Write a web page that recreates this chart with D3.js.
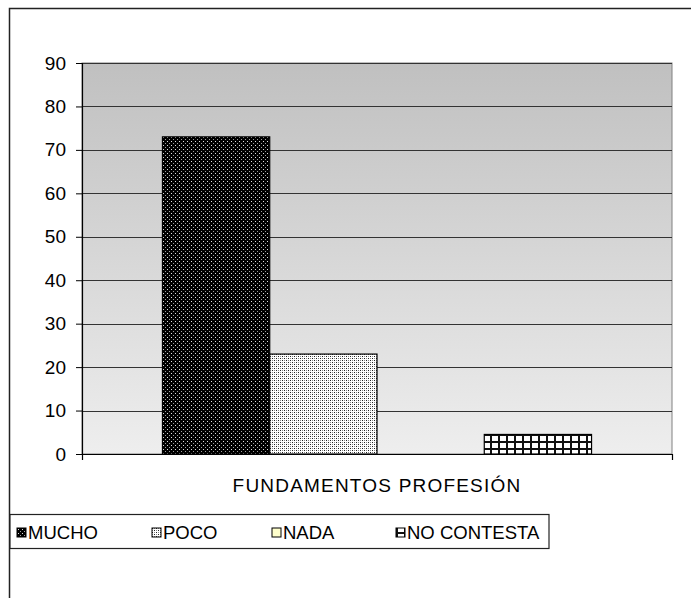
<!DOCTYPE html>
<html>
<head>
<meta charset="utf-8">
<script src="https://cdn.jsdelivr.net/npm/d3@7"></script>
<style>
  html, body { margin: 0; padding: 0; background: #fff; }
  svg { display: block; }
  text { font-family: "Liberation Sans", Arial, sans-serif; fill: #000; }
</style>
</head>
<body>
<svg id="chart" width="691" height="598"></svg>
<script>
// Chart data
const categories = ["FUNDAMENTOS PROFESIÓN"];
const seriesNames = ["MUCHO", "POCO", "NADA", "NO CONTESTA"];
const seriesValues = [73, 23, 0, 4.5];
const yTicks = [0, 10, 20, 30, 40, 50, 60, 70, 80, 90];
const seriesFills = ["url(#pat-mucho)", "url(#pat-poco)", "#ffffcc", "url(#pat-nc)"];

const svg = d3.select("#chart");
const defs = svg.append("defs");

// Plot-area background: grey fading to light grey
const grad = defs.append("linearGradient")
  .attr("id", "bg-grad").attr("x1", 0).attr("y1", 0).attr("x2", 0).attr("y2", 1);
grad.append("stop").attr("offset", "0%").attr("stop-color", "#c0c0c0");
grad.append("stop").attr("offset", "100%").attr("stop-color", "#eeeeee");

// MUCHO: black with light dots
const pm = defs.append("pattern").attr("id", "pat-mucho")
  .attr("patternUnits", "userSpaceOnUse").attr("width", 4).attr("height", 4);
pm.append("rect").attr("width", 4).attr("height", 4).attr("fill", "#000");
pm.append("rect").attr("x", 1).attr("y", 1).attr("width", 1).attr("height", 1).attr("fill", "#e0e0e0");
pm.append("rect").attr("x", 3).attr("y", 3).attr("width", 1).attr("height", 1).attr("fill", "#a0a0a0");

// POCO: white with dark dots
const pp = defs.append("pattern").attr("id", "pat-poco")
  .attr("patternUnits", "userSpaceOnUse").attr("width", 4).attr("height", 4);
pp.append("rect").attr("width", 4).attr("height", 4).attr("fill", "#fff");
pp.append("rect").attr("x", 0).attr("y", 0).attr("width", 1).attr("height", 1).attr("fill", "#222");
pp.append("rect").attr("x", 2).attr("y", 2).attr("width", 1).attr("height", 1).attr("fill", "#222");
pp.append("rect").attr("x", 0).attr("y", 2).attr("width", 1).attr("height", 1).attr("fill", "#888");
pp.append("rect").attr("x", 2).attr("y", 0).attr("width", 1).attr("height", 1).attr("fill", "#888");

// NO CONTESTA: white with black grid
const pn = defs.append("pattern").attr("id", "pat-nc")
  .attr("patternUnits", "userSpaceOnUse").attr("width", 8).attr("height", 7);
pn.append("rect").attr("width", 8).attr("height", 7).attr("fill", "#fff");
pn.append("rect").attr("x", 0).attr("y", 0).attr("width", 2).attr("height", 7).attr("fill", "#111");
pn.append("rect").attr("x", 0).attr("y", 0).attr("width", 8).attr("height", 2).attr("fill", "#111");

// Outer chart frame
svg.append("rect")
  .attr("x", 9.5).attr("y", 8.5).attr("width", 700).attr("height", 620)
  .attr("fill", "none").attr("stroke", "#222").attr("stroke-width", 1.5);

// Plot area bounds
const plotLeft = 82, plotRight = 672, plotTop = 63, plotBottom = 454;

const y = d3.scaleLinear().domain([0, 90]).range([plotBottom, plotTop]);
const x0 = d3.scaleBand().domain(categories).range([plotLeft, plotRight]).padding(0);
const x1 = d3.scaleBand().domain(seriesNames)
  .range([0, x0.bandwidth()]).paddingInner(0).paddingOuter(0.75);

svg.append("rect")
  .attr("x", plotLeft).attr("y", plotTop)
  .attr("width", plotRight - plotLeft).attr("height", plotBottom - plotTop)
  .attr("fill", "url(#bg-grad)").attr("stroke", "#808080").attr("stroke-width", 1);

// Horizontal gridlines
svg.append("g").selectAll("line")
  .data(yTicks.filter(d => d > 0))
  .join("line")
  .attr("x1", plotLeft).attr("x2", plotRight)
  .attr("y1", d => Math.round(y(d)) + 0.5).attr("y2", d => Math.round(y(d)) + 0.5)
  .attr("stroke", "#333").attr("stroke-width", 1);

// Bars
const groups = svg.append("g").selectAll("g")
  .data(categories)
  .join("g")
  .attr("transform", d => `translate(${x0(d)},0)`);

groups.selectAll("rect")
  .data(() => seriesNames.map((s, i) => ({ s, v: seriesValues[i], f: seriesFills[i] })).filter(d => d.v > 0))
  .join("rect")
  .attr("x", d => x1(d.s))
  .attr("y", d => y(d.v))
  .attr("width", x1.bandwidth())
  .attr("height", d => y(0) - y(d.v))
  .attr("fill", d => d.f)
  .attr("stroke", "#000").attr("stroke-width", 1.2);

// Y axis
const yAxis = d3.axisLeft(y).tickValues(yTicks).tickSize(6).tickPadding(10);
const gy = svg.append("g").attr("transform", `translate(${plotLeft},0)`).call(yAxis);
gy.select(".domain").attr("stroke", "#000").attr("stroke-width", 1.2);
gy.selectAll(".tick line").attr("stroke", "#000");
gy.selectAll(".tick text")
  .style("font-family", "'Liberation Sans', Arial, sans-serif")
  .style("font-size", "19px").attr("fill", "#000");

// X axis: boundary ticks only
const xEdge = d3.scaleLinear().domain([0, 1]).range([plotLeft, plotRight]);
const xAxis = d3.axisBottom(xEdge).tickValues([0, 1]).tickSize(6).tickFormat("");
const gx = svg.append("g").attr("transform", `translate(0,${plotBottom})`).call(xAxis);
gx.select(".domain").attr("stroke", "#000").attr("stroke-width", 1.2);
gx.selectAll(".tick line").attr("stroke", "#000");

// Category label
svg.append("g").selectAll("text")
  .data(categories)
  .join("text")
  .attr("x", d => x0(d) + x0.bandwidth() / 2)
  .attr("y", 492)
  .attr("text-anchor", "middle")
  .style("font-size", "19px")
  .style("letter-spacing", "1.2px")
  .text(d => d);

// Legend
const legend = svg.append("g");
legend.append("rect")
  .attr("x", 10).attr("y", 514.5).attr("width", 539).attr("height", 34)
  .attr("fill", "#fff").attr("stroke", "#222").attr("stroke-width", 1.2);

const legendX = [17, 152, 272, 396];
const items = legend.selectAll("g.item")
  .data(seriesNames.map((s, i) => ({ s, f: seriesFills[i], x: legendX[i] })))
  .join("g").attr("class", "item")
  .attr("transform", d => `translate(${d.x},0)`);
items.append("rect")
  .attr("x", 0).attr("y", 528).attr("width", 9).attr("height", 9)
  .attr("fill", d => d.f).attr("stroke", "#000").attr("stroke-width", 1);
items.append("text")
  .attr("x", 11).attr("y", 539)
  .style("font-size", "18.5px")
  .text(d => d.s);
</script>
</body>
</html>
